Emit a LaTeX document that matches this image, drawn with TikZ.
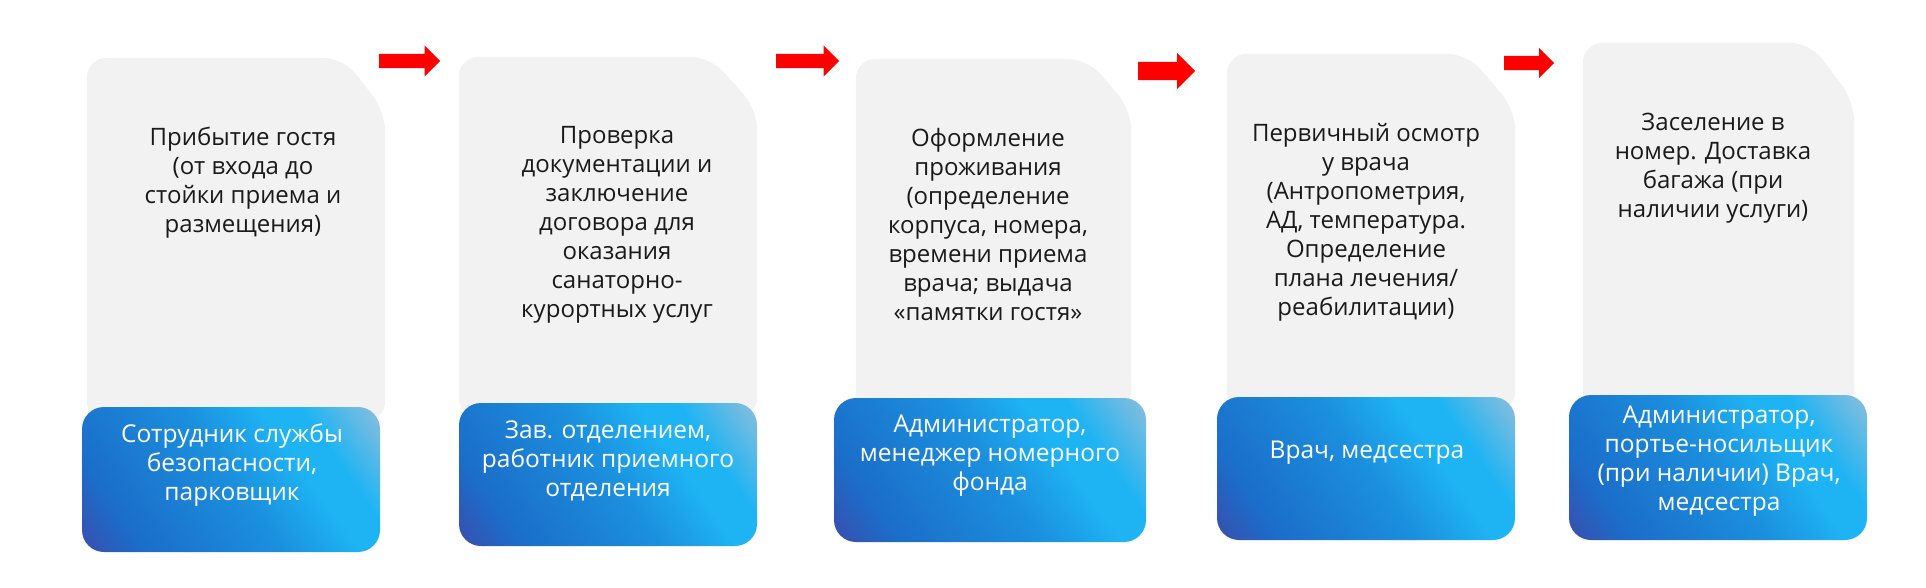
\documentclass[tikz,border=0pt]{standalone}
\usepackage{fontspec}
\setmainfont{Open Sans}
\usepackage{xcolor}
\usepackage{tikz}
\usetikzlibrary{positioning,shapes,arrows,calc,backgrounds}

\definecolor{cardgrey}{HTML}{F2F2F2}
\definecolor{titleink}{HTML}{1A1A1A}
\definecolor{roleA}{HTML}{3A4DAE}
\definecolor{roleB}{HTML}{1B6DC9}
\definecolor{roleM}{HTML}{1B8FDD}
\definecolor{roleC}{HTML}{1EB4F4}
\definecolor{roleD}{HTML}{8FBEDB}
\definecolor{arrowred}{HTML}{FF0000}
\pgfdeclarehorizontalshading{rolegrad}{100bp}{color(0bp)=(roleA); color(15bp)=(roleA); color(26bp)=(roleB); color(50bp)=(roleM); color(64bp)=(roleC); color(71bp)=(roleC); color(85bp)=(roleD); color(100bp)=(roleD)}

\begin{document}
\begin{tikzpicture}[x=1pt, y=-1pt, every node/.style={font=\fontsize{24}{29}\selectfont, align=center, inner sep=0pt},
  stage/.style={minimum width=#1, minimum height=360pt},
  stagetext/.style={anchor=north, text=titleink},
  rolebox/.style={rounded corners=22pt, shading=rolegrad, shading angle=35, minimum height=144pt, minimum width=298pt},
  roletext/.style={text=white, font=\fontsize{24.5}{29}\selectfont},
  flowarrow/.style={single arrow, anchor=tail, fill=arrowred, inner xsep=0pt, inner ysep=7pt, single arrow head extend=8.5pt, single arrow head indent=0pt}]
  \useasboundingbox (0,0) rectangle (1926,588);

  % Grey stage cards (frames only, shapes filled on the background layer below)
\node (arrival) at (236,239.5) [stage=298pt, minimum height=363pt] {};
\node (contract) at (608,237) [stage=298pt] {};
\node (checkin) at (993.5,235.5) [stage=275pt, minimum height=353pt] {};
\node (exam) at (1371,232.5) [stage=288pt, minimum height=357pt] {};
\node (settle) at (1718.5,226) [stage=271pt, minimum height=366pt] {};

  \begin{scope}[on background layer]
  \fill[white] (0,0) rectangle (1926,588);
  \fill[cardgrey, rounded corners=20pt] (arrival.south west) -- (arrival.north west) -- ([xshift=-42pt]arrival.north east) -- ([yshift=-54pt]arrival.north east) -- (arrival.south east) -- cycle;
  \fill[cardgrey, rounded corners=20pt] (contract.south west) -- (contract.north west) -- ([xshift=-47pt]contract.north east) -- ([yshift=-53pt]contract.north east) -- (contract.south east) -- cycle;
  \fill[cardgrey, rounded corners=20pt] (checkin.south west) -- (checkin.north west) -- ([xshift=-44pt]checkin.north east) -- ([yshift=-51pt]checkin.north east) -- (checkin.south east) -- cycle;
  \fill[cardgrey, rounded corners=20pt] (exam.south west) -- (exam.north west) -- ([xshift=-48pt]exam.north east) -- ([yshift=-56pt]exam.north east) -- (exam.south east) -- cycle;
  \fill[cardgrey, rounded corners=20pt] (settle.south west) -- (settle.north west) -- ([xshift=-44pt]settle.north east) -- ([yshift=-59pt]settle.north east) -- (settle.south east) -- cycle;
  \end{scope}

  % Step descriptions
\node (arrivaltext) at (243,127) [stagetext] {Прибытие гостя\\(от входа до\\стойки приема и\\размещения)};
\node (contracttext) at (617,126) [stagetext] {Проверка\\документации и\\заключение\\договора для\\оказания\\санаторно-\\курортных услуг};
\node (checkintext) at (988,128) [stagetext] {Оформление\\проживания\\(определение\\корпуса, номера,\\времени приема\\врача; выдача\\«памятки гостя»};
\node (examtext) at (1366,123) [stagetext] {Первичный осмотр\\у врача\\(Антропометрия,\\АД, температура.\\Определение\\плана лечения/\\реабилитации)};
\node (settletext) at (1713,113) [stagetext] {Заселение в\\номер. Доставка\\багажа (при\\наличии услуги)};

  % Responsible staff boxes with the blue gradient
\node (arrivalrole) at (231,479.5) [rolebox, minimum height=145pt] {};
\node (contractrole) at (608,474.5) [rolebox, minimum height=143pt] {};
\node (checkinrole) at (990,470) [rolebox, minimum width=312pt] {};
\node (examrole) at (1366,468.5) [rolebox, minimum height=143pt] {};
\node (settlerole) at (1718,467.5) [rolebox, minimum height=145pt] {};

\node (arrivalstaff) at (232,465) [roletext] {Сотрудник службы\\безопасности,\\парковщик};
\node (contractstaff) at (608,461) [roletext] {Зав. отделением,\\работник приемного\\отделения};
\node (checkinstaff) at (990,456) [roletext] {Администратор,\\менеджер номерного\\фонда};
\node (examstaff) at (1367,453) [roletext] {Врач, медсестра};
\node (settlestaff) at (1719,461) [roletext] {Администратор,\\портье-носильщик\\(при наличии) Врач,\\медсестра};

  % Red flow arrows between the steps
\node (go1) at (379,61) [flowarrow, minimum height=61pt] {};
\node (go2) at (776,61) [flowarrow, minimum height=63pt] {};
\node (go3) at (1138,71) [flowarrow, minimum height=57pt, inner ysep=9pt, single arrow head extend=9pt] {};
\node (go4) at (1504,63) [flowarrow, minimum height=50pt, single arrow head extend=8pt] {};
\end{tikzpicture}
\end{document}
